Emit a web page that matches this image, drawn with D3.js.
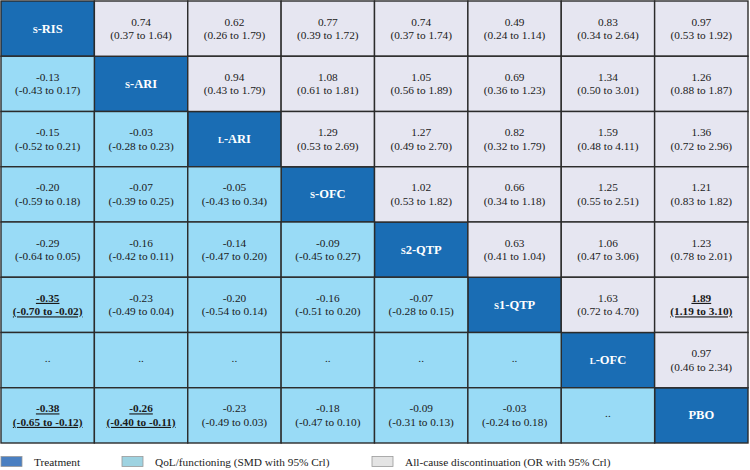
<!DOCTYPE html>
<html><head><meta charset="utf-8">
<script src="https://cdn.jsdelivr.net/npm/d3@7"></script>
<style>body{margin:0;background:#fff;} text{font-family:"Liberation Serif","Times New Roman",Times,"DejaVu Serif",serif;}</style>
</head><body><svg id="c" width="750" height="470"></svg>
<script>
const treatments = ["s-RIS","s-ARI","l-ARI","s-OFC","s2-QTP","s1-QTP","l-OFC","PBO"];
// Upper triangle: all-cause discontinuation OR [row, col, est, lo, hi, significant]
const orValues = [
  [0,1,0.74,0.37,1.64,0],[0,2,0.62,0.26,1.79,0],[0,3,0.77,0.39,1.72,0],[0,4,0.74,0.37,1.74,0],[0,5,0.49,0.24,1.14,0],[0,6,0.83,0.34,2.64,0],[0,7,0.97,0.53,1.92,0],
  [1,2,0.94,0.43,1.79,0],[1,3,1.08,0.61,1.81,0],[1,4,1.05,0.56,1.89,0],[1,5,0.69,0.36,1.23,0],[1,6,1.34,0.50,3.01,0],[1,7,1.26,0.88,1.87,0],
  [2,3,1.29,0.53,2.69,0],[2,4,1.27,0.49,2.70,0],[2,5,0.82,0.32,1.79,0],[2,6,1.59,0.48,4.11,0],[2,7,1.36,0.72,2.96,0],
  [3,4,1.02,0.53,1.82,0],[3,5,0.66,0.34,1.18,0],[3,6,1.25,0.55,2.51,0],[3,7,1.21,0.83,1.82,0],
  [4,5,0.63,0.41,1.04,0],[4,6,1.06,0.47,3.06,0],[4,7,1.23,0.78,2.01,0],
  [5,6,1.63,0.72,4.70,0],[5,7,1.89,1.19,3.10,1],
  [6,7,0.97,0.46,2.34,0]
];
// Lower triangle: QoL/functioning SMD [row, col, est, lo, hi, significant]; null = not estimable
const smdValues = [
  [1,0,-0.13,-0.43,0.17,0],
  [2,0,-0.15,-0.52,0.21,0],[2,1,-0.03,-0.28,0.23,0],
  [3,0,-0.20,-0.59,0.18,0],[3,1,-0.07,-0.39,0.25,0],[3,2,-0.05,-0.43,0.34,0],
  [4,0,-0.29,-0.64,0.05,0],[4,1,-0.16,-0.42,0.11,0],[4,2,-0.14,-0.47,0.20,0],[4,3,-0.09,-0.45,0.27,0],
  [5,0,-0.35,-0.70,-0.02,1],[5,1,-0.23,-0.49,0.04,0],[5,2,-0.20,-0.54,0.14,0],[5,3,-0.16,-0.51,0.20,0],[5,4,-0.07,-0.28,0.15,0],
  [6,0,null],[6,1,null],[6,2,null],[6,3,null],[6,4,null],[6,5,null],
  [7,0,-0.38,-0.65,-0.12,1],[7,1,-0.26,-0.40,-0.11,1],[7,2,-0.23,-0.49,0.03,0],[7,3,-0.18,-0.47,0.10,0],[7,4,-0.09,-0.31,0.13,0],[7,5,-0.03,-0.24,0.18,0],[7,6,null]
];
const legendLabels = ["Treatment","QoL/functioning (SMD with 95% Crl)","All-cause discontinuation (OR with 95% Crl)"];

const colors = {diag:"#1a6db4", low:"#99dbf6", up:"#e6e6f1"};
const legendColors = ["#4a7fc1","#9ed3e1","#e4e4e4"];
const FONT = '"Liberation Serif","Times New Roman",Times,serif';

const svg = d3.select("#c");
const x = d3.scaleBand().domain(d3.range(8)).range([1,748]);
const y = d3.scaleBand().domain(d3.range(8)).range([1,443]);
const fmt = v => v.toFixed(2);

const cells = [];
treatments.forEach((t,i)=>cells.push({r:i,c:i,type:"diag",label:t}));
orValues.forEach(d=>cells.push({r:d[0],c:d[1],type:"up",est:d[2],lo:d[3],hi:d[4],sig:d[5]}));
smdValues.forEach(d=>cells.push({r:d[0],c:d[1],type:"low",est:d[2],lo:d[3],hi:d[4],sig:d[5]}));
const g = svg.append("g");
g.selectAll("rect").data(cells).join("rect")
  .attr("x",d=>x(d.c)).attr("y",d=>y(d.r))
  .attr("width",x.bandwidth()).attr("height",y.bandwidth())
  .attr("fill",d=>colors[d.type]).attr("stroke","#2b2b2b").attr("stroke-width",1.4);

const cx = d=>x(d.c)+x.bandwidth()/2, cy = d=>y(d.r)+y.bandwidth()/2;
const fs = 11.3;
cells.forEach(d=>{
  if(d.type==="diag"){
    g.append("text").attr("font-family",FONT).attr("x",cx(d)).attr("y",cy(d)+4).attr("text-anchor","middle")
      .attr("fill","#fff").attr("font-weight","bold").attr("font-size",12.5)
      .style("font-variant","small-caps").text(d.label);
  } else if(d.est===null || d.est===undefined){
    g.append("text").attr("font-family",FONT).attr("x",cx(d)).attr("y",cy(d)+2).attr("text-anchor","middle")
      .attr("fill","#222").attr("font-size",fs).text("..");
  } else {
    const t = g.append("text").attr("font-family",FONT).attr("text-anchor","middle").attr("fill","#1a1a1a").attr("font-size",fs)
      .attr("font-weight",d.sig?"bold":"normal").attr("text-decoration",d.sig?"underline":"none");
    t.append("tspan").attr("x",cx(d)).attr("y",cy(d)-3).text(fmt(d.est));
    t.append("tspan").attr("x",cx(d)).attr("y",cy(d)+10.5).text(`(${fmt(d.lo)} to ${fmt(d.hi)})`);
  }
});

const lx = [1,122,372];
const lg = svg.append("g");
legendLabels.forEach((l,i)=>{
  lg.append("rect").attr("x",lx[i]).attr("y",456.5).attr("width",21).attr("height",10)
    .attr("fill",legendColors[i]).attr("stroke","#999").attr("stroke-width",0.8);
  lg.append("text").attr("font-family",FONT).attr("x",lx[i]+33).attr("y",466).attr("font-size",11.3).attr("fill","#222").text(l);
});
</script></body></html>
